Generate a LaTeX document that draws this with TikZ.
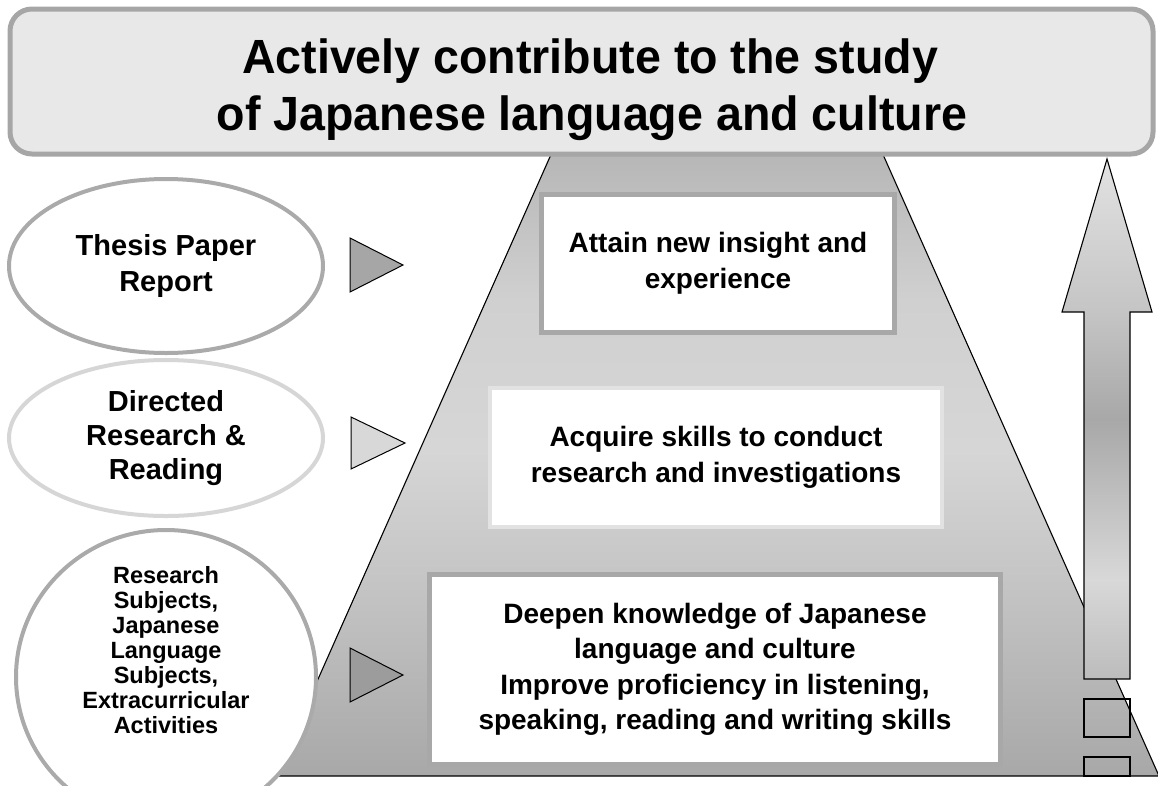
\documentclass[tikz,border=0pt]{standalone}
\usepackage{fontspec}
\setmainfont{Liberation Sans}
\newfontfamily\titlefamily[FakeStretch=0.97]{Liberation Sans}
\usetikzlibrary{shapes.geometric}
\definecolor{titlefill}{HTML}{E8E8E8}
\definecolor{titleedge}{HTML}{A6A6A6}
\definecolor{pyA}{HTML}{A8A8A8}
\definecolor{pyB}{HTML}{C2C2C2}
\definecolor{pyC}{HTML}{D6D6D6}
\definecolor{pyD}{HTML}{D0D0D0}
\definecolor{pyE}{HTML}{B6B6B6}
\definecolor{boxedgeA}{HTML}{A8A8A8}
\definecolor{boxedgeB}{HTML}{E2E2E2}
\definecolor{ellA}{HTML}{AAAAAA}
\definecolor{ellB}{HTML}{D6D6D6}
\definecolor{triDark}{HTML}{A6A6A6}
\definecolor{triDarker}{HTML}{9C9C9C}
\definecolor{triLight}{HTML}{D8D8D8}
\definecolor{ashA}{HTML}{BCBCBC}
\definecolor{ashB}{HTML}{D8D8D8}
\definecolor{ashC}{HTML}{A8A8A8}
\definecolor{ashD}{HTML}{C4C4C4}
\definecolor{ashE}{HTML}{E2E2E2}
\pgfdeclareverticalshading{arrowshade}{100bp}{color(0bp)=(ashA); color(25bp)=(ashA); color(34.5bp)=(ashB); color(50bp)=(ashC); color(60bp)=(ashD); color(75bp)=(ashE); color(100bp)=(ashE)}
\pgfdeclareverticalshading{pyrshade}{100bp}{color(0bp)=(pyA); color(25bp)=(pyA); color(39bp)=(pyB); color(51bp)=(pyC); color(63bp)=(pyD); color(75bp)=(pyE); color(100bp)=(pyE)}
\tikzset{
  txt/.style={font=\bfseries, align=center, text=black, inner sep=0pt},
  levelbox/.style={rectangle, fill=white, line width=5pt, inner sep=0pt},
  oval/.style={ellipse, draw, fill=white, line width=4pt, inner sep=0pt},
  pointer/.style={draw=black, line width=1pt, line join=miter},
  outline/.style={draw=black, line width=1.1pt},
  titleline/.style={anchor=base, inner sep=0pt, font=\titlefamily\bfseries\fontsize{48}{57}\selectfont}
}
\begin{document}
\begin{tikzpicture}[x=1pt,y=-1pt]
\useasboundingbox (0,0) rectangle (1158,785);
% pyramid
\path[outline, shading=pyrshade]
  (553,150) -- (881,150) -- (1159,776) -- (275,776) -- cycle;
% title box
\node (title) [rectangle, rounded corners=22pt, draw=titleedge, fill=titlefill, line width=5pt,
  minimum width=1143pt, minimum height=145pt, inner sep=0pt] at (581.5,81.5) {};
\node (titleA) [titleline] at (590,73) {Actively contribute to the study};
\node (titleB) [titleline] at (592,130) {of Japanese language and culture};
% level boxes
\node (box1) [levelbox, draw=boxedgeA, minimum width=353pt, minimum height=138pt,
  txt, font=\bfseries\fontsize{28}{35.5}\selectfont] at (718,263.5)
  {Attain new insight and\\experience};
\node (box2) [levelbox, draw=boxedgeB, line width=4pt, minimum width=452pt, minimum height=139pt,
  txt, font=\bfseries\fontsize{28}{35.5}\selectfont] at (716,457.5)
  {Acquire skills to conduct\\research and investigations};
\node (box3) [levelbox, draw=boxedgeA, minimum width=571pt, minimum height=190pt,
  txt, font=\bfseries\fontsize{28}{35.5}\selectfont] at (715,669.5)
  {Deepen knowledge of Japanese\\language and culture\\Improve proficiency in listening,\\speaking, reading and writing skills};
% ovals
\node (e1) [oval, draw=ellA, minimum width=314pt, minimum height=174pt,
  txt, font=\bfseries\fontsize{29}{36}\selectfont] at (166,266) {Thesis Paper\\Report};
\node (e2) [oval, draw=ellB, minimum width=314pt, minimum height=156pt,
  txt, font=\bfseries\fontsize{29}{34}\selectfont] at (166,438) {Directed\\Research \&\\Reading};
\node (e3) [oval, draw=ellA, minimum width=300pt, minimum height=294pt] at (166,677) {};
\node (e3text) [txt, font=\bfseries\fontsize{23.5}{25}\selectfont] at (166,650)
  {Research\\Subjects,\\Japanese\\Language\\Subjects,\\Extracurricular\\Activities};
% pointer triangles
\path[pointer, fill=triDark] (350,238) -- (403,265) -- (350,292) -- cycle;
\path[pointer, fill=triLight] (351,417) -- (405,443) -- (351,469) -- cycle;
\path[pointer, fill=triDarker] (350,648) -- (403,675) -- (350,702) -- cycle;
% upward arrow
\path[outline, shading=arrowshade]
  (1107,159) -- (1152,312) -- (1130,312) -- (1130,679) -- (1084,679) -- (1084,312) -- (1062,312) -- cycle;
\node (sq1) [rectangle, outline, minimum width=46pt, minimum height=38pt, inner sep=0pt] at (1107,718) {};
\node (sq2) [rectangle, outline, minimum width=46pt, minimum height=19pt, inner sep=0pt] at (1107,766.5) {};
\end{tikzpicture}
\end{document}
